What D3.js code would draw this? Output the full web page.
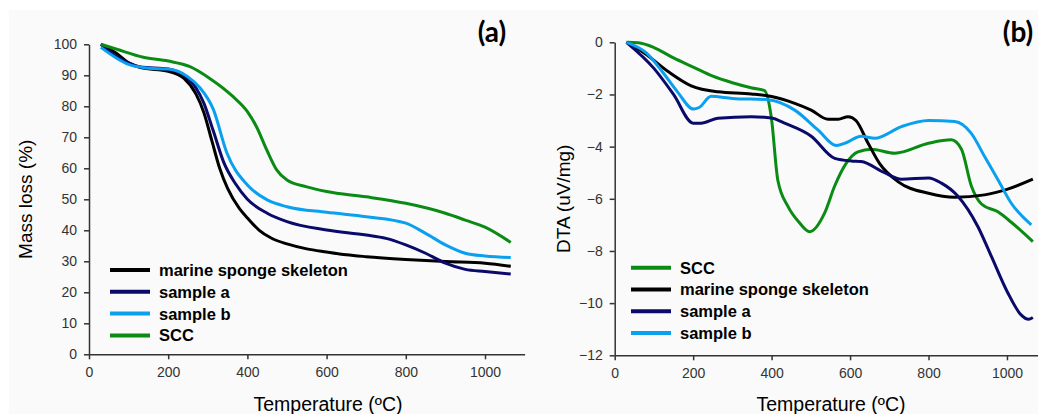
<!DOCTYPE html>
<html>
<head>
<meta charset="utf-8">
<script src="https://cdn.jsdelivr.net/npm/d3@7"></script>
<style>
  body { margin: 0; background: #fff; }
  text { font-family: "Liberation Sans", Arial, sans-serif; }
  .tick text { fill: #333; font-size: 14px; }
  .domain, .tick line { stroke: #333; stroke-width: 1.5; }
</style>
</head>
<body>
<svg id="chart" width="1038" height="414"></svg>
<script>
// ---- data: panel (a) mass loss (%) ----
const tA = {
  sponge: [30, 70, 100, 130, 200, 240, 270, 290, 310, 330, 350, 380, 400, 430, 460, 500, 550, 600, 650, 700, 800, 900, 1000, 1065],
  sampleA: [30, 70, 100, 130, 200, 240, 270, 290, 314, 340, 370, 400, 450, 500, 600, 700, 750, 800, 850, 900, 950, 1000, 1065],
  sampleB: [30, 70, 100, 150, 200, 250, 280, 314, 348, 400, 450, 500, 600, 700, 800, 850, 900, 950, 1000, 1065],
  scc: [30, 70, 137, 200, 255, 305, 364, 400, 423, 449, 474, 500, 550, 600, 700, 800, 900, 950, 1000, 1065]
};
const massSponge = [100, 97, 94, 92.5, 91.3, 89, 84, 78, 69, 60, 53.5, 47, 44, 40, 37.5, 35.6, 34, 33, 32.1, 31.5, 30.6, 29.9, 29.4, 28.4];
const massSampleA = [100, 96, 94, 92.7, 92, 90, 86, 81, 72, 62, 55, 50, 45.5, 42.8, 40.1, 38.5, 37.4, 35.3, 32.6, 29.4, 27.4, 26.7, 25.9];
const massSampleB = [99, 95.5, 93.5, 92.3, 92, 89.5, 86, 79, 65, 54.6, 49.8, 47.6, 45.8, 44.4, 42.3, 39, 35.3, 32.6, 31.7, 31.2];
const massSCC = [100, 98.4, 95.8, 94.6, 92.8, 89, 83.1, 78.3, 73.4, 65.9, 59.5, 56.2, 54, 52.5, 50.8, 48.7, 45.5, 43.3, 41, 36.1];

// ---- data: panel (b) DTA (uV/mg) ----
const tB = {
  scc: [30, 60, 100, 150, 200, 250, 300, 350, 382, 399, 416, 442, 470, 497, 535, 561, 590, 620, 654, 714, 800, 858, 884, 909, 935, 977, 1011, 1066],
  sponge: [30, 76, 136, 195, 263, 348, 400, 459, 501, 544, 570, 595, 615, 646, 675, 722, 800, 867, 943, 1000, 1066],
  sampleA: [30, 100, 150, 200, 220, 263, 348, 400, 433, 501, 561, 603, 628, 688, 731, 800, 833, 875, 926, 960, 1002, 1036, 1055, 1066],
  sampleB: [30, 80, 120, 160, 201, 215, 246, 300, 391, 459, 518, 565, 590, 628, 663, 731, 800, 867, 909, 943, 977, 1011, 1062]
};
const dtaSCC = [0, -0.02, -0.2, -0.6, -0.95, -1.3, -1.55, -1.75, -1.85, -2.85, -5.3, -6.3, -6.9, -7.26, -6.55, -5.5, -4.64, -4.2, -4.1, -4.25, -3.87, -3.74, -4.1, -5.5, -6.2, -6.5, -6.9, -7.64];
const dtaSponge = [0, -0.42, -1.12, -1.67, -1.9, -1.98, -2.08, -2.34, -2.6, -2.95, -2.95, -2.85, -3.0, -3.87, -4.64, -5.34, -5.79, -5.94, -5.85, -5.64, -5.25];
const dtaSampleA = [0, -1.0, -2.0, -3.1, -3.1, -2.91, -2.85, -2.9, -3.1, -3.6, -4.45, -4.55, -4.57, -5.0, -5.25, -5.2, -5.4, -5.9, -7.07, -8.2, -9.6, -10.45, -10.62, -10.55];
const dtaSampleB = [0, -0.4, -1.1, -1.9, -2.56, -2.5, -2.07, -2.15, -2.2, -2.6, -3.36, -3.96, -3.85, -3.6, -3.68, -3.23, -3.0, -3.04, -3.49, -4.38, -5.27, -6.17, -7.0];

const xTicks = [0, 200, 400, 600, 800, 1000];
const yTicksA = d3.range(0, 101, 10);
const yTicksB = [0, -2, -4, -6, -8, -10, -12];

const colors = { sponge: "#000000", sampleA: "#0a0a6a", sampleB: "#0aa0f0", scc: "#0a8c14" };
const names = { sponge: "marine sponge skeleton", sampleA: "sample a", sampleB: "sample b", scc: "SCC" };

const svg = d3.select("#chart");
svg.append("rect").attr("x", 9).attr("y", 10).attr("width", 1029).attr("height", 404).attr("fill", "#fafafa");

function panel(opt) {
  const g = svg.append("g");
  const x = d3.scaleLinear().domain([0, 1100]).range(opt.xr);
  const y = d3.scaleLinear().domain(opt.yd).range(opt.yr);

  g.append("g").attr("transform", `translate(0,${opt.yr[0]})`)
    .call(d3.axisBottom(x).tickValues(xTicks).tickFormat(d3.format("d")).tickSize(5).tickSizeOuter(0).tickPadding(8));
  g.append("g").attr("transform", `translate(${opt.xr[0]},0)`)
    .call(d3.axisLeft(y).tickValues(opt.yTicks).tickFormat(d3.format("d")).tickSize(5).tickSizeOuter(0).tickPadding(7));

  const line = d3.line().x(d => x(d[0])).y(d => y(d[1])).curve(d3.curveMonotoneX);
  opt.series.forEach(s => {
    g.append("path")
      .datum(s.t.map((t, i) => [t, s.v[i]]))
      .attr("fill", "none")
      .attr("stroke", colors[s.key])
      .attr("stroke-width", 3)
      .attr("stroke-linejoin", "round")
      .attr("d", line);
  });

  // legend
  opt.legend.forEach((key, i) => {
    const ly = opt.legY + i * 21.8;
    g.append("line").attr("x1", opt.legX).attr("x2", opt.legX + 40).attr("y1", ly).attr("y2", ly)
      .attr("stroke", colors[key]).attr("stroke-width", 4);
    g.append("text").attr("x", opt.legX + 49).attr("y", ly).attr("dy", "0.36em")
      .style("font-size", "16.5px").style("font-weight", "bold").text(names[key]);
  });

  g.append("text")
    .attr("transform", `translate(${opt.yTitleX},${(opt.yr[0] + opt.yr[1]) / 2}) rotate(-90)`)
    .attr("text-anchor", "middle").attr("dy", "0.35em")
    .style("font-size", "19px").text(opt.yTitle);
  g.append("text")
    .attr("x", opt.xTitleX).attr("y", 411)
    .attr("text-anchor", "middle").style("font-size", "19.5px").text("Temperature (ºC)");
  g.append("text")
    .attr("x", opt.tagX).attr("y", 42).attr("text-anchor", "middle")
    .style("font-family", "Lato, 'Open Sans', sans-serif").style("font-weight", "bold").style("font-size", "28px")
    .text(opt.tag);
}

panel({
  xr: [89, 524.6], yd: [0, 100], yr: [354.3, 44.3], yTicks: yTicksA,
  series: [
    { key: "sponge", t: tA.sponge, v: massSponge },
    { key: "sampleA", t: tA.sampleA, v: massSampleA },
    { key: "sampleB", t: tA.sampleB, v: massSampleB },
    { key: "scc", t: tA.scc, v: massSCC }
  ],
  legend: ["sponge", "sampleA", "sampleB", "scc"], legX: 110, legY: 270,
  yTitle: "Mass loss (%)", yTitleX: 25, xTitleX: 328, tag: "(a)", tagX: 492
});

panel({
  xr: [614.7, 1046.2], yd: [-12, 0], yr: [355.3, 42.3], yTicks: yTicksB,
  series: [
    { key: "scc", t: tB.scc, v: dtaSCC },
    { key: "sponge", t: tB.sponge, v: dtaSponge },
    { key: "sampleA", t: tB.sampleA, v: dtaSampleA },
    { key: "sampleB", t: tB.sampleB, v: dtaSampleB }
  ],
  legend: ["scc", "sponge", "sampleA", "sampleB"], legX: 631, legY: 267.7,
  yTitle: "DTA (uV/mg)", yTitleX: 563, xTitleX: 831, tag: "(b)", tagX: 1018
});
</script>
</body>
</html>
